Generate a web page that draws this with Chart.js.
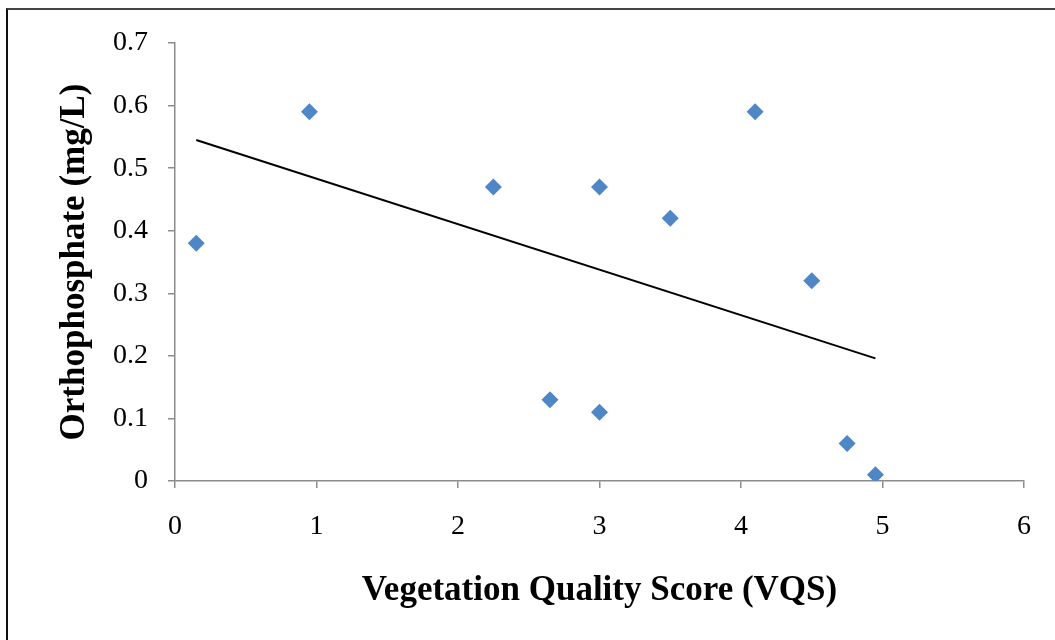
<!DOCTYPE html>
<html>
<head>
<meta charset="utf-8">
<script src="https://cdn.jsdelivr.net/npm/chart.js@4.4.1/dist/chart.umd.min.js"></script>
<style>
  html, body { margin: 0; padding: 0; background: #fff; }
  #wrap { position: relative; width: 1055px; height: 640px; }
  #frame { position: absolute; left: 6px; top: 8px; right: 0; bottom: 0;
           border-top: 2px solid #444; border-left: 2px solid #111; pointer-events: none; }
  canvas { position: absolute; left: 0; top: 0; }
</style>
</head>
<body>
<div id="wrap">
  <canvas id="chart" width="1055" height="640"></canvas>
  <div id="frame"></div>
</div>
<script>
const vqs       = [0.15, 0.95, 2.25, 2.65, 3.0, 3.0, 3.5, 4.1, 4.5, 4.75, 4.95];
const phosphate = [0.38, 0.59, 0.47, 0.13, 0.47, 0.11, 0.42, 0.59, 0.32, 0.06, 0.01];
const trendX    = [0.15, 4.95];
const trendY    = [0.545, 0.196];
const xTickLabels = ['0', '1', '2', '3', '4', '5', '6'];
const yTickLabels = ['0', '0.1', '0.2', '0.3', '0.4', '0.5', '0.6', '0.7'];

const AXIS_GRAY = '#8c8c8c';
const SERIF = '"Liberation Serif", "Times New Roman", serif';

new Chart(document.getElementById('chart'), {
  data: {
    datasets: [
      {
        type: 'scatter',
        data: vqs.map((x, i) => ({ x, y: phosphate[i] })),
        pointStyle: 'rectRot',
        pointRadius: 8.5,
        pointHoverRadius: 8.5,
        backgroundColor: '#4F86C6',
        borderColor: '#4F86C6',
        borderWidth: 0,
        order: 2,
      },
      {
        type: 'line',
        data: trendX.map((x, i) => ({ x, y: trendY[i] })),
        borderColor: '#000',
        borderWidth: 2,
        pointRadius: 0,
        fill: false,
        order: 1,
      },
    ]
  },
  options: {
    responsive: false,
    animation: false,
    layout: { padding: { left: 0, top: 43, right: 31, bottom: 0 } },
    plugins: { legend: { display: false }, tooltip: { enabled: false } },
    scales: {
      x: {
        type: 'linear', min: 0, max: 6,
        ticks: { stepSize: 1, color: '#000', padding: 22,
                 font: { family: SERIF, size: 28 },
                 callback: (v, i) => xTickLabels[i] },
        grid: { drawOnChartArea: false, drawTicks: true, tickLength: 7, color: AXIS_GRAY, lineWidth: 1.5 },
        border: { display: true, color: AXIS_GRAY, width: 1.5 },
        title: { display: true, text: 'Vegetation Quality Score (VQS)', color: '#000',
                 font: { family: SERIF, size: 35, weight: 'bold' }, padding: { top: 0, bottom: 28 } },
        afterFit: s => { s.height = 640 - 481; },
      },
      y: {
        type: 'linear', min: 0, max: 0.7,
        ticks: { stepSize: 0.1, color: '#000', padding: 20,
                 font: { family: SERIF, size: 28 },
                 callback: (v, i) => yTickLabels[i] },
        grid: { drawOnChartArea: false, drawTicks: true, tickLength: 7, color: AXIS_GRAY, lineWidth: 1.5 },
        border: { display: true, color: AXIS_GRAY, width: 1.5 },
        title: { display: true, text: 'Orthophosphate (mg/L)', color: '#000',
                 font: { family: SERIF, size: 35, weight: 'bold' }, padding: { top: 54, bottom: 0 } },
        afterFit: s => { s.width = 175; },
      }
    }
  }
});
</script>
</body>
</html>
